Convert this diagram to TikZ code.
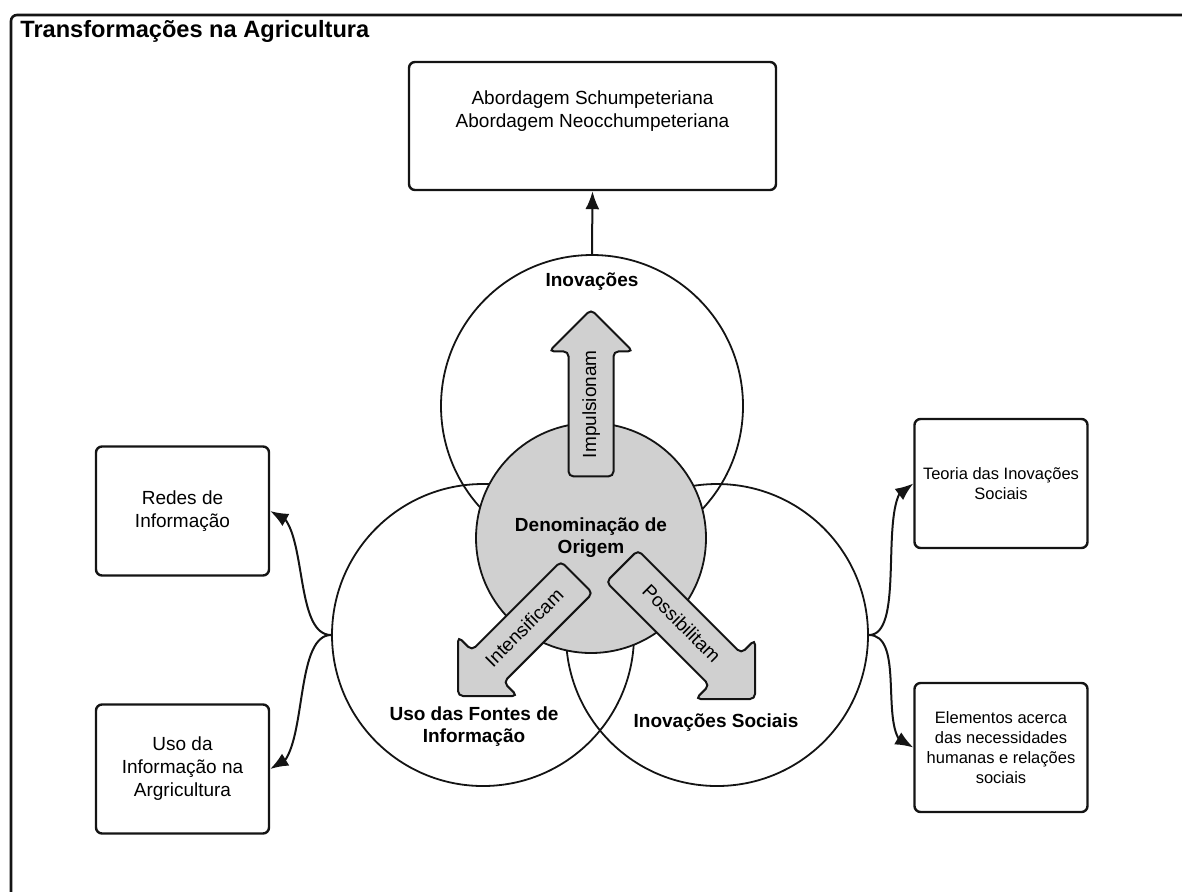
\documentclass[tikz,border=0pt]{standalone}
\usepackage{fontspec}
\setmainfont{Liberation Sans}
\usetikzlibrary{shapes.geometric, shapes.arrows, arrows.meta, bending, positioning}
\definecolor{clrOrigem}{HTML}{D0D0D0}
\definecolor{clrLine}{HTML}{141414}
\tikzset{
  topic/.style = {rectangle, rounded corners=3pt, minimum width=86.5pt, minimum height=64.5pt,
                  align=center, draw=clrLine, line width=1.2pt, font=\fontsize{9.5}{11.5}\selectfont},
  ring/.style = {circle, minimum size=151pt, inner sep=0pt, draw=clrLine, line width=0.9pt},
  flow/.style = {single arrow, single arrow head extend=9.75pt, single arrow tip angle=90,
                 minimum width=41pt, text height=7pt, text depth=2pt, inner ysep=6.25pt, inner xsep=2pt,
                 rounded corners=2.5pt, draw=clrLine, line width=1pt, fill=clrOrigem,
                 font=\fontsize{9.5}{11}\selectfont},
  conn/.style = {-{Latex[length=9pt, width=7pt, flex]}, line width=1pt, draw=clrLine},
  caption/.style = {font=\bfseries\fontsize{9.5}{11}\selectfont, align=center},
}

\begin{document}
\begin{tikzpicture}[
  x=0.5pt, y=-0.5pt,
  small/.style = {font=\fontsize{8.25}{10}\selectfont},
]
\useasboundingbox (0,0) rectangle (1182,891);

% Frame
\begin{scope}
  \clip (0,0) rectangle (1182,891);
  \draw[line width=1.3pt, draw=clrLine, rounded corners=3pt] (1195,15) -- (11,15) -- (11,900);
\end{scope}
\node[font=\bfseries\fontsize{11.8}{14}\selectfont, anchor=base west, inner sep=0pt] (title) at (20,37) {Transformações na Agricultura};

% Circles
\node[ring] (inov) at (592,406) {};
\node[ring] (fontes) at (483,635) {};
\node[ring] (soc) at (717,635) {};
\node[circle, minimum size=115pt, inner sep=0pt, draw=clrLine, line width=0.9pt, fill=clrOrigem] (origem) at (591,538) {};

% Big arrows
\node[flow, rotate=90, minimum height=83.5pt, anchor=tip] (impuls) at (591,308) {Impulsionam};
\node[flow, rotate=45, shape border rotate=180, minimum height=84pt, anchor=tip] (intens) at (457,697) {Intensificam};
\node[flow, rotate=-45, minimum height=94pt, anchor=tip] (possib) at (756,700) {Possibilitam};

% Captions
\node[caption] (lblInov) at (592,282) {Inovações};
\node[caption] (lblOrigem) at (591,538) {Denominação de\\Origem};
\node[caption] (lblFontes) at (474,727) {Uso das Fontes de\\Informação};
\node[caption] (lblSoc) at (716,723) {Inovações Sociais};

% Boxes
\node[topic, minimum width=183.5pt, minimum height=64pt, text depth=17pt] (abord) at (592.5,126)
  {Abordagem Schumpeteriana\\Abordagem Neocchumpeteriana};
\node[topic] (redes) at (182.5,511) {Redes de\\Informação};
\node[topic] (infoagri) at (182.5,769) {Uso da\\Informação na\\Argricultura};
\node[topic, small] (teoria) at (1001,483.5) {Teoria das Inovações\\Sociais};
\node[topic, small] (elem) at (1001,747.5) {Elementos acerca\\das necessidades\\humanas e relações\\sociais};

% Connectors
\draw[conn] (inov.north) -- (abord.south);
\draw[conn] (fontes.west) .. controls +(-40,0) and +(40,0) .. (redes.east);
\draw[conn] (fontes.west) .. controls +(-40,0) and +(40,0) .. (infoagri.east);
\draw[conn] (soc.east) .. controls +(40,0) and +(-40,0) .. (teoria.west);
\draw[conn] (soc.east) .. controls +(40,0) and +(-40,0) .. (elem.west);
\end{tikzpicture}
\end{document}
